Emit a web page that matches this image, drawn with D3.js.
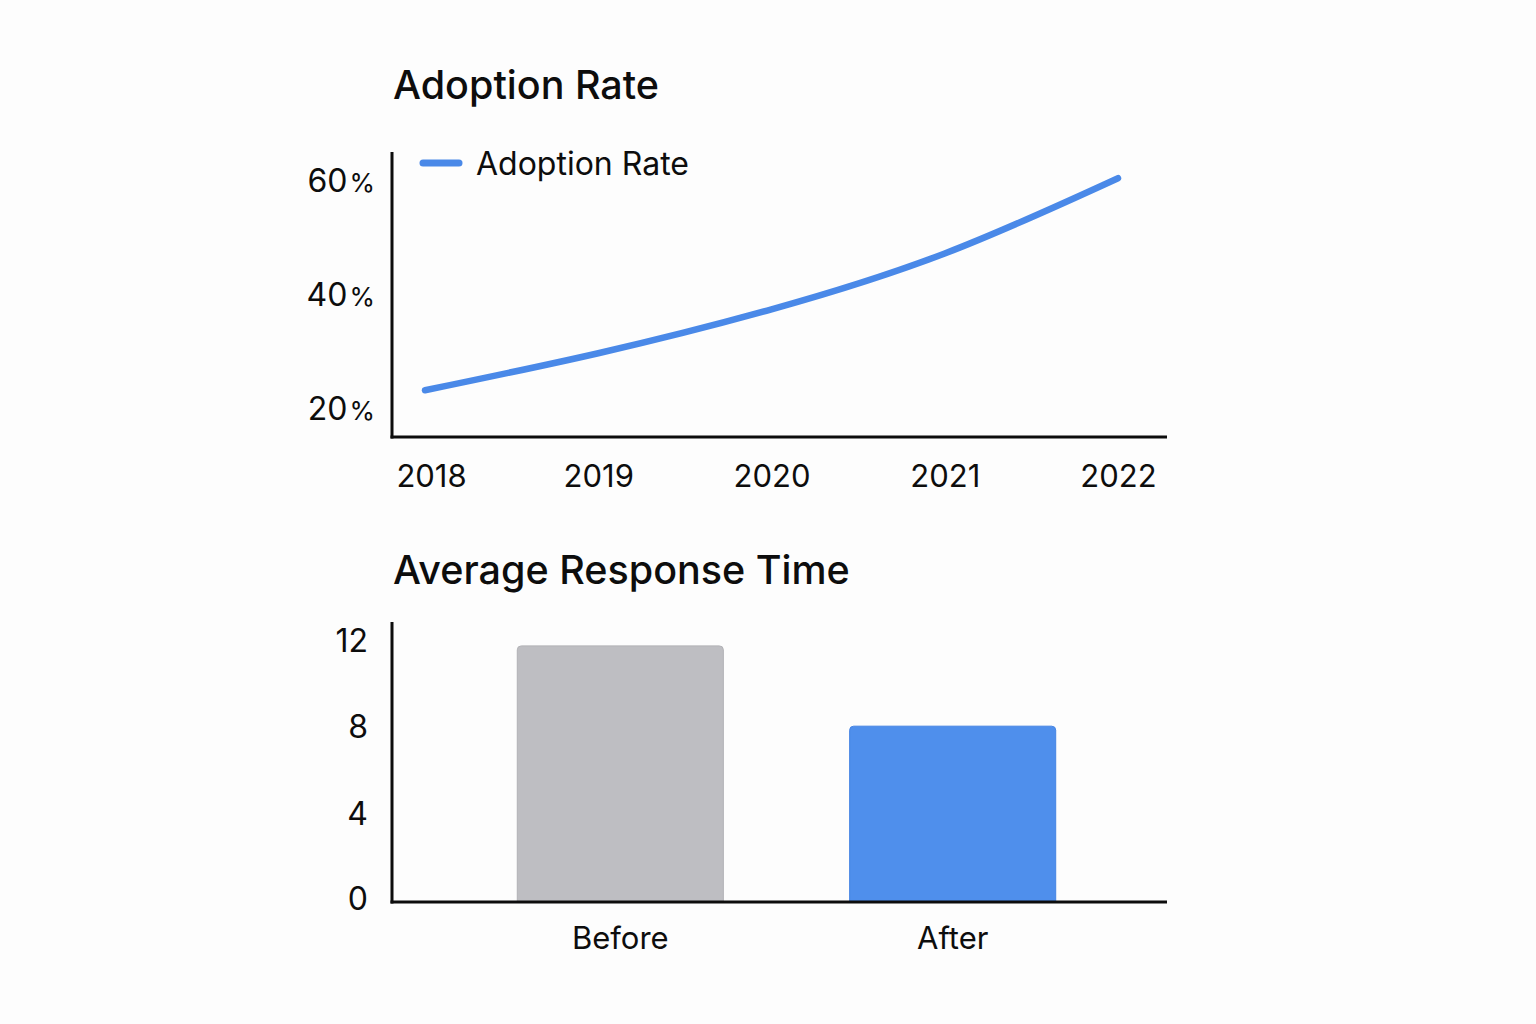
<!DOCTYPE html>
<html>
<head>
<meta charset="utf-8">
<script src="https://cdn.jsdelivr.net/npm/d3@7"></script>
<style>
  html, body { margin: 0; padding: 0; background: #fdfdfd; }
  svg { display: block; font-family: Inter, "Noto Sans", sans-serif; }
</style>
</head>
<body>
<svg id="chart" width="1536" height="1024"></svg>
<script>
// ---- Data ----
const years = ["2018", "2019", "2020", "2021", "2022"];
const adoptionRate = [23.2, 29.7, 37.4, 47.2, 60.4];
const adoptionTicks = [20, 40, 60];
const seriesName = "Adoption Rate";

const phases = ["Before", "After"];
const responseTime = [11.8, 8.1];
const responseTicks = [0, 4, 8, 12];

// ---- Setup ----
const svg = d3.select("#chart");
svg.append("rect").attr("width", 1536).attr("height", 1024).attr("fill", "#fdfdfd");
const ink = "#0d0d0d";
const blue = "#4a89e8";

// ===== Top chart: Adoption Rate =====
const x1 = d3.scalePoint().domain(years).range([425, 1118]);
const y1 = d3.scaleLinear().domain([15, 65]).range([437, 152]);

svg.append("text")
  .attr("x", 393).attr("y", 99)
  .attr("font-size", 39.5).attr("font-weight", 500).attr("fill", ink)
  .text("Adoption Rate");

// y axis labels
const gy1 = svg.append("g").attr("transform", "translate(392,0)")
  .call(d3.axisLeft(y1).tickValues(adoptionTicks).tickSize(0).tickPadding(17).tickFormat(d => d));
gy1.select(".domain").remove();
gy1.selectAll("text")
  .attr("font-size", 32).attr("fill", ink).attr("font-family", "Inter, 'Noto Sans', sans-serif")
  .attr("dy", "0.34em")
  .each(function() {
    d3.select(this).append("tspan").attr("dx", 2).attr("font-size", 26).text("%");
  });

// x axis labels
const gx1 = svg.append("g").attr("transform", "translate(0,437)")
  .call(d3.axisBottom(x1).tickSize(0).tickPadding(28));
gx1.select(".domain").remove();
gx1.selectAll("text")
  .attr("font-size", 31).attr("fill", ink).attr("font-family", "Inter, 'Noto Sans', sans-serif")
  .attr("dx", (d, i) => i === 0 ? 6 : 0);

// axis lines
svg.append("line").attr("x1", 392).attr("x2", 392).attr("y1", y1.range()[1]).attr("y2", y1.range()[0] + 1.5)
  .attr("stroke", ink).attr("stroke-width", 3);
svg.append("line").attr("x1", 390.5).attr("x2", 1167).attr("y1", y1.range()[0]).attr("y2", y1.range()[0])
  .attr("stroke", ink).attr("stroke-width", 3);

// line
const line = d3.line()
  .x((d, i) => x1(years[i]))
  .y(d => y1(d))
  .curve(d3.curveNatural);
svg.append("path").datum(adoptionRate)
  .attr("d", line)
  .attr("fill", "none").attr("stroke", blue).attr("stroke-width", 6.5)
  .attr("stroke-linecap", "round").attr("stroke-linejoin", "round");

// legend
svg.append("line").attr("x1", 423).attr("x2", 459).attr("y1", 163).attr("y2", 163)
  .attr("stroke", blue).attr("stroke-width", 7).attr("stroke-linecap", "round");
svg.append("text").attr("x", 476).attr("y", 175)
  .attr("font-size", 32).attr("fill", ink).text(seriesName);

// ===== Bottom chart: Average Response Time =====
const x2 = d3.scaleBand().domain(phases).range([392, 1181]).paddingInner(0.38).paddingOuter(0.377);
const y2 = d3.scaleLinear().domain([0, 12.9]).range([902, 622]);

svg.append("text")
  .attr("x", 393).attr("y", 584)
  .attr("font-size", 39.5).attr("font-weight", 500).attr("fill", ink)
  .text("Average Response Time");

const gy2 = svg.append("g").attr("transform", "translate(392,0)")
  .call(d3.axisLeft(y2).tickValues(responseTicks).tickSize(0).tickPadding(24).tickFormat(d3.format("d")));
gy2.select(".domain").remove();
gy2.selectAll("text")
  .attr("font-size", 32).attr("fill", ink).attr("font-family", "Inter, 'Noto Sans', sans-serif")
  .attr("dy", (d) => d === 0 ? "0.22em" : "0.3em");

// bars with rounded top corners
const r = 4;
const barColors = ["#bebec2", "#4f8fec"];
const barStrokes = ["#b2b2b6", "#4584e4"];
svg.append("g").selectAll("path").data(responseTime).join("path")
  .attr("d", (d, i) => {
    const x = x2(phases[i]), w = x2.bandwidth(), top = y2(d), bot = y2(0);
    return `M${x},${bot} L${x},${top + r} Q${x},${top} ${x + r},${top} L${x + w - r},${top} Q${x + w},${top} ${x + w},${top + r} L${x + w},${bot} Z`;
  })
  .attr("fill", (d, i) => barColors[i])
  .attr("stroke", (d, i) => barStrokes[i]).attr("stroke-width", 1);

// axis lines
svg.append("line").attr("x1", 392).attr("x2", 392).attr("y1", y2.range()[1]).attr("y2", y2.range()[0] + 1.5)
  .attr("stroke", ink).attr("stroke-width", 3);
svg.append("line").attr("x1", 390.5).attr("x2", 1167).attr("y1", y2.range()[0]).attr("y2", y2.range()[0])
  .attr("stroke", ink).attr("stroke-width", 3);

// category labels
const gx2 = svg.append("g").attr("transform", "translate(0,902)")
  .call(d3.axisBottom(x2).tickSize(0).tickPadding(25));
gx2.select(".domain").remove();
gx2.selectAll("text")
  .attr("font-size", 31).attr("fill", ink).attr("font-family", "Inter, 'Noto Sans', sans-serif");
</script>
</body>
</html>
